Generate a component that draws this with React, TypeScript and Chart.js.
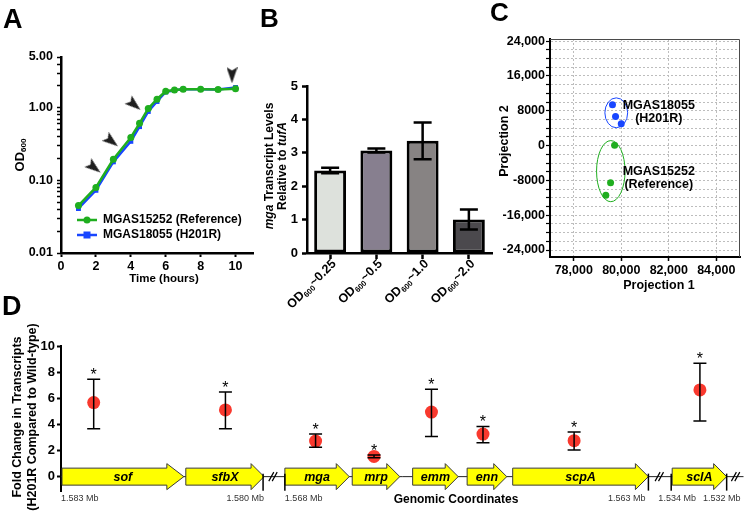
import React, { useEffect, useRef } from 'react';
import { Chart, registerables } from 'chart.js';

Chart.register(...registerables);

const FONT = 'Arial, "Liberation Sans", Helvetica, sans-serif';
const GREEN = '#1fae1f';
const BLUE = '#1846ff';

// ---------------- Panel A: growth curves ----------------
const timeHours = [1, 2, 3, 4, 4.5, 5, 5.5, 6, 6.5, 7, 8, 9, 10];
const odReference = [0.045, 0.08, 0.195, 0.39, 0.61, 0.98, 1.31, 1.69, 1.75, 1.8, 1.8, 1.78, 1.83];
const odH201R = [0.041, 0.073, 0.18, 0.345, 0.55, 0.89, 1.22, 1.65, 1.74, 1.8, 1.8, 1.78, 1.9];
const odMajorTicks = [0.01, 0.1, 1, 5];
const odMinorTicks = [0.02, 0.03, 0.04, 0.05, 0.06, 0.07, 0.08, 0.09, 0.2, 0.3, 0.4, 0.5, 0.6, 0.7, 0.8, 0.9, 2, 3, 4];
const timeTicks = [0, 2, 4, 6, 8, 10];
const sampleTimes = [1.9, 2.9, 4.2, 9.8];
const sampleOD = [0.15, 0.345, 1.1, 2.8];
const sampleArrowAngle = [128, 128, 130, 180];
const legendA = ['MGAS15252 (Reference)', 'MGAS18055 (H201R)'];

// ---------------- Panel B: mga transcripts ----------------
const odCategories = ['0.25', '0.5', '1.0', '2.0'];
const mgaLevels = [2.47, 3.07, 3.36, 1.0];
const mgaError = [0.08, 0.06, 0.55, 0.3];
const barFills = ['#dde1dc', '#877f8f', '#878383', '#4b494d'];

// ---------------- Panel C: projections ----------------
const h201rProj1 = [79630, 79760, 80000];
const h201rProj2 = [9370, 6700, 5030];
const refProj1 = [79720, 79550, 79350];
const refProj2 = [70, -8530, -11430];
const proj1Ticks = [78000, 80000, 82000, 84000];
const proj2Labeled = [-24000, -16000, -8000, 0, 8000, 16000, 24000];
const proj2Ticks = [-24000, -22000, -20000, -18000, -16000, -14000, -12000, -10000, -8000, -6000, -4000, -2000, 0,
  2000, 4000, 6000, 8000, 10000, 12000, 14000, 16000, 18000, 20000, 22000, 24000];
const clusterNames = [['MGAS18055', '(H201R)'], ['MGAS15252', '(Reference)']];
const clusterColors = [BLUE, GREEN];
const clusterCenterX = [79790, 79560];
const clusterCenterY = [7540, -5870];
const clusterRadX = [480, 600];
const clusterRadY = [3430, 7020];
const clusterLabelX = [81580, 81580];
const clusterLabelY = [7650, -7430];

// ---------------- Panel D: fold change along genome ----------------
const geneNames = ['sof', 'sfbX', 'mga', 'mrp', 'emm', 'enn', 'scpA', 'sclA'];
const geneStart = [1, 126, 226, 294, 355, 410, 456, 617];
const geneEnd = [124, 205, 291, 342, 401, 450, 593, 672];
const genePointX = [33, 166, 257, 316, 374, 426, 518, 645];
const foldChange = [5.67, 5.11, 2.72, 1.55, 4.94, 3.26, 2.75, 6.64];
const foldLow = [3.66, 3.66, 2.24, 1.45, 3.08, 2.6, 2.04, 4.25];
const foldHigh = [7.46, 6.47, 3.26, 1.65, 6.69, 3.84, 3.41, 8.68];
const foldTicks = [0, 2, 4, 6, 8, 10];
const breakX = [214, 604, 681];
const coordTickX = [204, 226, 593, 616, 672];
const coordLabels = ['1.583 Mb', '1.580 Mb', '1.568 Mb', '1.563 Mb', '1.534 Mb', '1.532 Mb'];
const coordLabelX = [0, 205, 226, 590, 622, 667];
const coordLabelAlign: CanvasTextAlign[] = ['left', 'right', 'left', 'right', 'center', 'center'];

// ---------------- helpers ----------------
type Seg = { t: string; it?: boolean; sub?: boolean };

function fontStr(size: number, weight = 'bold', italic = false) {
  return `${italic ? 'italic ' : ''}${weight} ${size}px ${FONT}`;
}

function drawText(ctx: CanvasRenderingContext2D, text: string, x: number, y: number, size: number,
  align: CanvasTextAlign, opts: { weight?: string; italic?: boolean; color?: string; baseline?: CanvasTextBaseline } = {}) {
  ctx.font = fontStr(size, opts.weight ?? 'bold', !!opts.italic);
  ctx.fillStyle = opts.color ?? '#000';
  ctx.textAlign = align;
  ctx.textBaseline = opts.baseline ?? 'middle';
  ctx.fillText(text, x, y);
}

function drawRich(ctx: CanvasRenderingContext2D, segs: Seg[], x: number, y: number, size: number,
  align: 'left' | 'center' | 'right', angle = 0) {
  ctx.save();
  ctx.translate(x, y);
  ctx.rotate(angle);
  let w = 0;
  for (const s of segs) {
    ctx.font = fontStr(s.sub ? size * 0.62 : size, 'bold', !!s.it);
    w += ctx.measureText(s.t).width;
  }
  let cx = align === 'left' ? 0 : align === 'center' ? -w / 2 : -w;
  ctx.textAlign = 'left';
  ctx.textBaseline = 'middle';
  ctx.fillStyle = '#000';
  for (const s of segs) {
    ctx.font = fontStr(s.sub ? size * 0.62 : size, 'bold', !!s.it);
    ctx.fillText(s.t, cx, s.sub ? size * 0.3 : 0);
    cx += ctx.measureText(s.t).width;
  }
  ctx.restore();
}

function makeArrowhead(w: number, h: number) {
  const c = document.createElement('canvas');
  c.width = w;
  c.height = h;
  const g = c.getContext('2d')!;
  g.fillStyle = '#1e1e1e';
  g.beginPath();
  g.moveTo(w / 2, 0);
  g.lineTo(w, h);
  g.lineTo(w / 2, h * 0.8);
  g.lineTo(0, h);
  g.closePath();
  g.fill();
  return c;
}

const tickFont = (size: number) => ({ family: FONT, size, weight: 'bold' as const });
const isOneOf = (v: number, arr: number[]) => arr.some((m) => Math.abs(m - v) < 1e-9);

// ---------------- charts ----------------
function makeA(canvas: HTMLCanvasElement) {
  const arrow = makeArrowhead(11, 16);
  const plugin = {
    id: 'panelA',
    afterDraw(chart: any) {
      const ctx: CanvasRenderingContext2D = chart.ctx;
      ctx.save();
      drawText(ctx, 'A', 3, 28, 27, 'left', { baseline: 'alphabetic' });
      drawRich(ctx, [{ t: 'OD' }, { t: '600', sub: true }], 20, 155, 13, 'center', -Math.PI / 2);
      drawText(ctx, 'Time (hours)', 164, 279, 11.5, 'center');
      legendA.forEach((lab, i) => {
        const y = 220 + i * 15;
        const col = i === 0 ? GREEN : BLUE;
        ctx.strokeStyle = col;
        ctx.lineWidth = 2.5;
        ctx.beginPath();
        ctx.moveTo(77, y);
        ctx.lineTo(97, y);
        ctx.stroke();
        ctx.fillStyle = col;
        if (i === 0) {
          ctx.beginPath();
          ctx.arc(87, y, 3.5, 0, Math.PI * 2);
          ctx.fill();
        } else {
          ctx.fillRect(83.5, y - 3.5, 7, 7);
        }
        drawText(ctx, lab, 103, y, 12, 'left');
      });
      ctx.restore();
    },
  };
  return new Chart(canvas, {
    type: 'line',
    data: {
      datasets: [
        {
          label: legendA[0],
          data: timeHours.map((t, i) => ({ x: t, y: odReference[i] })),
          borderColor: GREEN, backgroundColor: GREEN, borderWidth: 2.5,
          pointStyle: 'circle', pointRadius: 3.5, pointBorderWidth: 0,
        },
        {
          label: legendA[1],
          data: timeHours.map((t, i) => ({ x: t, y: odH201R[i] })),
          borderColor: BLUE, backgroundColor: BLUE, borderWidth: 2.5,
          pointStyle: 'rect', pointRadius: 3.5, pointBorderWidth: 0,
        },
        {
          label: 'samples',
          data: sampleTimes.map((t, i) => ({ x: t, y: sampleOD[i] })),
          showLine: false,
          pointStyle: arrow as any,
          rotation: sampleArrowAngle as any,
          pointRadius: 8,
        },
      ],
    } as any,
    options: {
      animation: false, responsive: false, devicePixelRatio: 1,
      layout: { padding: { top: 57, right: 5, left: 0, bottom: 0 } },
      plugins: { legend: { display: false }, tooltip: { enabled: false } },
      scales: {
        x: {
          type: 'linear', min: 0, max: 11,
          afterFit: (s: any) => { s.height = 37; },
          afterBuildTicks: (s: any) => { s.ticks = timeTicks.map((v) => ({ value: v })); },
          ticks: { color: '#000', font: tickFont(12.5), padding: 2, maxRotation: 0, autoSkip: false },
          grid: { drawOnChartArea: false, tickLength: 4, tickWidth: 2, tickColor: '#000' },
          border: { color: '#000', width: 2.5 },
        },
        y: {
          type: 'logarithmic', min: 0.01, max: 5,
          afterFit: (s: any) => { s.width = 61; },
          afterBuildTicks: (s: any) => {
            s.ticks = [...odMajorTicks, ...odMinorTicks].sort((a, b) => a - b).map((v) => ({ value: v }));
          },
          ticks: {
            color: '#000', font: tickFont(12.5), padding: 4, autoSkip: false,
            callback: (v: any) => (isOneOf(Number(v), odMajorTicks) ? Number(v).toFixed(2) : ''),
          },
          grid: { drawOnChartArea: false, tickLength: 4, tickWidth: 1.5, tickColor: '#000' },
          border: { color: '#000', width: 2.5 },
        },
      },
    } as any,
    plugins: [plugin],
  });
}

function makeB(canvas: HTMLCanvasElement) {
  const plugin = {
    id: 'panelB',
    afterDatasetsDraw(chart: any) {
      const ctx: CanvasRenderingContext2D = chart.ctx;
      const ys = chart.scales.y;
      const meta = chart.getDatasetMeta(0);
      ctx.save();
      ctx.strokeStyle = '#000';
      ctx.lineWidth = 2.5;
      mgaLevels.forEach((v, i) => {
        const x = meta.data[i].x;
        const yt = ys.getPixelForValue(v + mgaError[i]);
        const yb = ys.getPixelForValue(v - mgaError[i]);
        ctx.beginPath();
        ctx.moveTo(x, yt); ctx.lineTo(x, yb);
        ctx.moveTo(x - 9, yt); ctx.lineTo(x + 9, yt);
        ctx.moveTo(x - 9, yb); ctx.lineTo(x + 9, yb);
        ctx.stroke();
      });
      ctx.restore();
    },
    afterDraw(chart: any) {
      const ctx: CanvasRenderingContext2D = chart.ctx;
      const xs = chart.scales.x;
      ctx.save();
      drawText(ctx, 'B', 15, 27, 26, 'left', { baseline: 'alphabetic' });
      drawRich(ctx, [{ t: 'mga', it: true }, { t: ' Transcript Levels' }], 25, 166, 12, 'center', -Math.PI / 2);
      drawRich(ctx, [{ t: 'Relative to ' }, { t: 'tufA', it: true }], 38, 166, 12, 'center', -Math.PI / 2);
      odCategories.forEach((c, i) => {
        const x = xs.getPixelForValue(i);
        drawRich(ctx, [{ t: 'OD' }, { t: '600', sub: true }, { t: '~' + c }], x + 4, chart.chartArea.bottom + 9, 12.5, 'right', -Math.PI / 4);
      });
      ctx.restore();
    },
  };
  return new Chart(canvas, {
    type: 'bar',
    data: {
      labels: odCategories,
      datasets: [{
        data: mgaLevels, backgroundColor: barFills, borderColor: '#000', borderWidth: 3,
        borderSkipped: false, barPercentage: 0.69, categoryPercentage: 1,
      }],
    },
    options: {
      animation: false, responsive: false, devicePixelRatio: 1,
      layout: { padding: { top: 86, right: 5, left: 0, bottom: 0 } },
      plugins: { legend: { display: false }, tooltip: { enabled: false } },
      scales: {
        x: {
          afterFit: (s: any) => { s.height = 62; },
          ticks: { display: false },
          grid: { offset: false, drawOnChartArea: false, tickLength: 6, tickWidth: 2.5, tickColor: '#000' },
          border: { color: '#000', width: 2.5 },
        },
        y: {
          min: 0, max: 5,
          afterFit: (s: any) => { s.width = 62; },
          ticks: { stepSize: 1, padding: 4, color: '#000', font: tickFont(13) },
          grid: { drawOnChartArea: false, tickLength: 5, tickWidth: 2.5, tickColor: '#000' },
          border: { color: '#000', width: 2.5 },
        },
      },
    } as any,
    plugins: [plugin],
  });
}

function fmtProj(v: number) {
  return Math.abs(v) >= 10000 ? v.toLocaleString('en-US') : String(v);
}

function makeC(canvas: HTMLCanvasElement) {
  const plugin = {
    id: 'panelC',
    afterDatasetsDraw(chart: any) {
      const ctx: CanvasRenderingContext2D = chart.ctx;
      const xs = chart.scales.x;
      const ys = chart.scales.y;
      const a = chart.chartArea;
      ctx.save();
      ctx.strokeStyle = '#4a4a4a';
      ctx.lineWidth = 1;
      ctx.beginPath();
      ctx.moveTo(a.left, a.top + 0.5); ctx.lineTo(a.right - 0.5, a.top + 0.5); ctx.lineTo(a.right - 0.5, a.bottom);
      ctx.stroke();
      clusterNames.forEach((names, i) => {
        const cx = xs.getPixelForValue(clusterCenterX[i]);
        const cy = ys.getPixelForValue(clusterCenterY[i]);
        const rx = Math.abs(xs.getPixelForValue(clusterCenterX[i] + clusterRadX[i]) - cx);
        const ry = Math.abs(ys.getPixelForValue(clusterCenterY[i] + clusterRadY[i]) - cy);
        ctx.strokeStyle = clusterColors[i];
        ctx.lineWidth = 1;
        ctx.beginPath();
        ctx.ellipse(cx, cy, rx, ry, 0, 0, Math.PI * 2);
        ctx.stroke();
        const lx = xs.getPixelForValue(clusterLabelX[i]);
        const ly = ys.getPixelForValue(clusterLabelY[i]);
        drawText(ctx, names[0], lx, ly - 6.5, 12.5, 'center');
        drawText(ctx, names[1], lx, ly + 6.5, 12.5, 'center');
      });
      ctx.restore();
    },
    afterDraw(chart: any) {
      const ctx: CanvasRenderingContext2D = chart.ctx;
      ctx.save();
      drawText(ctx, 'C', 0, 21, 26, 'left', { baseline: 'alphabetic' });
      ctx.translate(15, 141);
      ctx.rotate(-Math.PI / 2);
      drawText(ctx, 'Projection 2', 0, 0, 12.5, 'center');
      ctx.restore();
      ctx.save();
      drawText(ctx, 'Projection 1', 169, 286, 12.5, 'center');
      ctx.restore();
    },
  };
  return new Chart(canvas, {
    type: 'scatter',
    data: {
      datasets: [
        { data: h201rProj1.map((x, i) => ({ x, y: h201rProj2[i] })), backgroundColor: BLUE, pointRadius: 3.5, borderWidth: 0 },
        { data: refProj1.map((x, i) => ({ x, y: refProj2[i] })), backgroundColor: GREEN, pointRadius: 3.5, borderWidth: 0 },
      ],
    },
    options: {
      animation: false, responsive: false, devicePixelRatio: 1,
      layout: { padding: { top: 39, right: 10, left: 0, bottom: 0 } },
      plugins: { legend: { display: false }, tooltip: { enabled: false } },
      scales: {
        x: {
          type: 'linear', min: 77000, max: 85000,
          afterFit: (s: any) => { s.height = 43; },
          afterBuildTicks: (s: any) => { s.ticks = proj1Ticks.map((v) => ({ value: v })); },
          ticks: { color: '#000', font: tickFont(12.5), padding: 2, maxRotation: 0, autoSkip: false, callback: (v: any) => fmtProj(Number(v)) },
          grid: { color: '#bdbdbd', lineWidth: 1, tickLength: 4, tickColor: '#000', tickWidth: 1.5 },
          border: { color: '#000', width: 2, dash: [2, 2] },
        },
        y: {
          type: 'linear', min: -25600, max: 24500,
          afterFit: (s: any) => { s.width = 60; },
          afterBuildTicks: (s: any) => { s.ticks = proj2Ticks.map((v) => ({ value: v })); },
          ticks: {
            color: '#000', font: tickFont(12.5), padding: 1, autoSkip: false,
            callback: (v: any) => (isOneOf(Number(v), proj2Labeled) ? fmtProj(Number(v)) : ''),
          },
          grid: { color: '#bdbdbd', lineWidth: 1, tickLength: 4, tickColor: '#000', tickWidth: 1.2 },
          border: { color: '#000', width: 2, dash: [2, 2] },
        },
      },
    } as any,
    plugins: [plugin],
  });
}

function geneArrow(ctx: CanvasRenderingContext2D, x1: number, x2: number, y0: number, head: number) {
  const bh = 8.5;
  const hh = 13;
  const hx = Math.max(x1, x2 - head);
  ctx.beginPath();
  ctx.moveTo(x1, y0 - bh);
  ctx.lineTo(hx, y0 - bh);
  ctx.lineTo(hx, y0 - hh);
  ctx.lineTo(x2, y0);
  ctx.lineTo(hx, y0 + hh);
  ctx.lineTo(hx, y0 + bh);
  ctx.lineTo(x1, y0 + bh);
  ctx.closePath();
  ctx.fillStyle = '#ffff00';
  ctx.fill();
  ctx.strokeStyle = '#3a3a3a';
  ctx.lineWidth = 1;
  ctx.stroke();
}

function makeD(canvas: HTMLCanvasElement) {
  const plugin = {
    id: 'panelD',
    beforeDatasetsDraw(chart: any) {
      const ctx: CanvasRenderingContext2D = chart.ctx;
      const xs = chart.scales.x;
      const ys = chart.scales.y;
      const y0 = ys.getPixelForValue(0);
      ctx.save();
      ctx.strokeStyle = '#222';
      ctx.lineWidth = 1;
      ctx.beginPath();
      ctx.moveTo(chart.chartArea.left, y0);
      ctx.lineTo(chart.chartArea.right, y0);
      ctx.stroke();
      geneNames.forEach((g, i) => {
        const x1 = xs.getPixelForValue(geneStart[i]);
        const x2 = xs.getPixelForValue(geneEnd[i]);
        geneArrow(ctx, x1, x2, y0, i === 0 ? 17 : 13);
        drawText(ctx, g, (x1 + x2) / 2, y0 + 1, 12.5, 'center', { italic: true });
      });
      ctx.strokeStyle = '#000';
      ctx.lineWidth = 1.5;
      coordTickX.forEach((t) => {
        const x = xs.getPixelForValue(t);
        ctx.beginPath();
        ctx.moveTo(x, y0 - 3);
        ctx.lineTo(x, y0 + 14);
        ctx.stroke();
      });
      ctx.lineWidth = 1.2;
      breakX.forEach((b) => {
        const x = xs.getPixelForValue(b);
        ctx.beginPath();
        [-1.7, 1.7].forEach((k) => {
          ctx.moveTo(x + k - 2.5, y0 + 4.5);
          ctx.lineTo(x + k + 2.5, y0 - 4.5);
        });
        ctx.stroke();
      });
      coordLabels.forEach((l, i) => {
        drawText(ctx, l, xs.getPixelForValue(coordLabelX[i]), y0 + 22, 9, coordLabelAlign[i], { weight: 'normal', color: '#333' });
      });
      ctx.restore();
    },
    afterDatasetsDraw(chart: any) {
      const ctx: CanvasRenderingContext2D = chart.ctx;
      const xs = chart.scales.x;
      const ys = chart.scales.y;
      ctx.save();
      ctx.strokeStyle = '#000';
      ctx.lineWidth = 1.5;
      genePointX.forEach((gx, i) => {
        const x = xs.getPixelForValue(gx);
        const yt = ys.getPixelForValue(foldHigh[i]);
        const yb = ys.getPixelForValue(foldLow[i]);
        ctx.beginPath();
        ctx.moveTo(x, yt); ctx.lineTo(x, yb);
        ctx.moveTo(x - 6.5, yt); ctx.lineTo(x + 6.5, yt);
        ctx.moveTo(x - 6.5, yb); ctx.lineTo(x + 6.5, yb);
        ctx.stroke();
        drawText(ctx, '*', x, yt + 1, 16, 'center', { weight: 'normal', baseline: 'alphabetic' });
      });
      ctx.restore();
    },
    afterDraw(chart: any) {
      const ctx: CanvasRenderingContext2D = chart.ctx;
      ctx.save();
      drawText(ctx, 'D', 2, 20, 27, 'left', { baseline: 'alphabetic' });
      drawText(ctx, 'Genomic Coordinates', 456, 205, 12, 'center');
      ctx.translate(18, 122);
      ctx.rotate(-Math.PI / 2);
      drawText(ctx, 'Fold Change in Transcripts', 0, 0, 12.5, 'center');
      drawText(ctx, '(H201R Compared to Wild-type)', 0, 15, 12.5, 'center');
      ctx.restore();
    },
  };
  return new Chart(canvas, {
    type: 'scatter',
    data: {
      datasets: [{
        data: genePointX.map((x, i) => ({ x, y: foldChange[i] })),
        backgroundColor: '#f9392e', pointRadius: 6.5, borderWidth: 0,
      }],
    },
    options: {
      animation: false, responsive: false, devicePixelRatio: 1,
      layout: { padding: { top: 51, right: 0, left: 0, bottom: 21 } },
      plugins: { legend: { display: false }, tooltip: { enabled: false } },
      scales: {
        x: { type: 'linear', min: 0, max: 689, display: false },
        y: {
          type: 'linear', min: -1.1, max: 10,
          afterFit: (s: any) => { s.width = 61; },
          afterBuildTicks: (s: any) => { s.ticks = foldTicks.map((v) => ({ value: v })); },
          ticks: { color: '#000', font: tickFont(13), padding: 2, autoSkip: false },
          grid: { drawOnChartArea: false, tickLength: 4, tickWidth: 2, tickColor: '#000' },
          border: { color: '#000', width: 2 },
        },
      },
    } as any,
    plugins: [plugin],
  });
}

export default function App() {
  const aRef = useRef<HTMLCanvasElement>(null);
  const bRef = useRef<HTMLCanvasElement>(null);
  const cRef = useRef<HTMLCanvasElement>(null);
  const dRef = useRef<HTMLCanvasElement>(null);

  useEffect(() => {
    const charts = [makeA(aRef.current!), makeB(bRef.current!), makeC(cRef.current!), makeD(dRef.current!)];
    return () => charts.forEach((c) => c.destroy());
  }, []);

  const pos = (left: number, top: number, w: number, h: number): React.CSSProperties => ({
    position: 'absolute', left, top, width: w, height: h,
  });

  return (
    <div style={{ position: 'absolute', left: 0, top: 0, width: 750, height: 512, background: '#fff', overflow: 'hidden' }}>
      <canvas ref={aRef} width={262} height={290} style={pos(0, 0, 262, 290)} />
      <canvas ref={dRef} width={750} height={217} style={pos(0, 295, 750, 217)} />
      <canvas ref={bRef} width={252} height={315} style={pos(245, 0, 252, 315)} />
      <canvas ref={cRef} width={260} height={300} style={pos(490, 0, 260, 300)} />
    </div>
  );
}
